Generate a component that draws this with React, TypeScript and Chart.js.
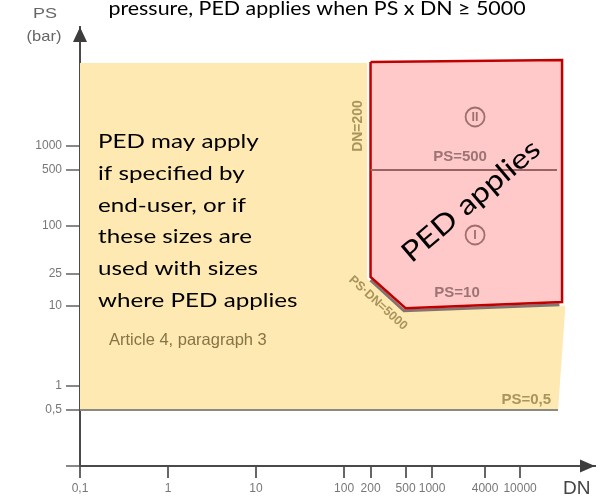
import React, { useEffect, useRef } from "react";
import { Chart, registerables } from "chart.js";

Chart.register(...registerables);

// ---------- axis ticks ----------
const dnTicks = [0.1, 1, 10, 100, 200, 500, 1000, 4000, 10000];
const dnTickLabels = ["0,1", "1", "10", "100", "200", "500", "1000", "4000", "10000"];
const psTicks = [0.1, 0.5, 1, 10, 25, 100, 500, 1000];
const psTickLabels = ["", "0,5", "1", "10", "25", "100", "500", "1000"];

const DN_MIN = 0.1;
const DN_MAX = 71000;
const PS_MIN = 0.1;
const PS_MAX = 30700;

// ---------- regions / lines (DN, PS) ----------
const yellowDN = [0.1, 0.1, 29000, 32500, 27000, 0.1];
const yellowPS = [0.5, 10900, 10900, 9, 0.5, 0.5];

const redDN = [200, 30000, 30000, 500, 200, 200];
const redPS = [11200, 11900, 11.2, 9.4, 23, 11200];

const shadowDN = [200, 480, 28000];
const shadowPS = [21, 8.7, 10.4];

const ps500DN = [200, 26300];
const ps500PS = [500, 500];

const ps05DN = [0.1, 27000];
const ps05PS = [0.5, 0.5];

const pedBlockLines = [
  "PED may apply",
  "if specified by",
  "end-user, or if",
  "these sizes are",
  "used with sizes",
  "where PED applies",
];

const titleText = "pressure, PED applies when PS x DN \u2265 5000";

const pts = (xs: number[], ys: number[]) => xs.map((x, i) => ({ x, y: ys[i] }));

const CAL = "Lato, 'Open Sans', sans-serif";
const ARIAL = "'Liberation Sans', Arial, sans-serif";

function drawText(
  ctx: CanvasRenderingContext2D,
  t: string,
  x: number,
  y: number,
  o: { font: string; color: string; align?: CanvasTextAlign; baseline?: CanvasTextBaseline; rotate?: number; sx?: number }
) {
  ctx.save();
  ctx.translate(x, y);
  if (o.rotate) ctx.rotate((o.rotate * Math.PI) / 180);
  if (o.sx) ctx.scale(o.sx, 1);
  ctx.font = o.font;
  ctx.fillStyle = o.color;
  ctx.textAlign = o.align || "center";
  ctx.textBaseline = o.baseline || "middle";
  ctx.fillText(t, 0, 0);
  ctx.restore();
}

const decorPlugin = {
  id: "decor",
  afterDraw(chart: any) {
    const ctx: CanvasRenderingContext2D = chart.ctx;
    const xs = chart.scales.x;
    const ys = chart.scales.y;
    const X = (v: number) => xs.getPixelForValue(v);
    const Y = (v: number) => ys.getPixelForValue(v);
    const area = chart.chartArea;

    // arrows
    ctx.save();
    ctx.fillStyle = "#3d3d3d";
    ctx.beginPath();
    ctx.moveTo(area.left, area.top);
    ctx.lineTo(area.left - 7, area.top + 15);
    ctx.lineTo(area.left + 7, area.top + 15);
    ctx.closePath();
    ctx.fill();
    ctx.beginPath();
    ctx.moveTo(area.right, area.bottom);
    ctx.lineTo(area.right - 15, area.bottom - 6.5);
    ctx.lineTo(area.right - 15, area.bottom + 6.5);
    ctx.closePath();
    ctx.fill();
    ctx.restore();

    // circles I / II
    const circ = (dn: number, ps: number, label: string) => {
      ctx.save();
      ctx.strokeStyle = "#a06e6e";
      ctx.lineWidth = 1.8;
      ctx.beginPath();
      ctx.arc(X(dn), Y(ps), 9.5, 0, Math.PI * 2);
      ctx.stroke();
      ctx.restore();
      drawText(ctx, label, X(dn), Y(ps) + 0.5, { font: `bold 12.5px ${ARIAL}`, color: "#a06e6e" });
    };
    circ(3080, 2304, "II");
    circ(3080, 77.2, "I");

    const olive = "#a8955c";
    const rose = "#9c7474";
    drawText(ctx, "DN=200", X(144), Y(1778), { font: `bold 14px ${ARIAL}`, color: olive, rotate: -90 });
    drawText(ctx, "PS=500", X(2080), Y(729), { font: `bold 15px ${ARIAL}`, color: rose });
    drawText(ctx, "PS=10", X(1923), Y(14.7), { font: `bold 15px ${ARIAL}`, color: rose });
    drawText(ctx, "PS\u00b7DN=5000", X(243), Y(10.9), { font: `bold 12.5px ${ARIAL}`, color: olive, rotate: 42.3 });
    drawText(ctx, "PS=0,5", X(22500), Y(0.668), { font: `bold 15px ${ARIAL}`, color: olive, align: "right" });
    drawText(ctx, "Article 4, paragraph 3", X(0.2135), Y(3.76), { font: `16.5px ${ARIAL}`, color: "#857445", align: "left" });

    // PED may apply block
    pedBlockLines.forEach((line, i) => {
      drawText(ctx, line, X(0.16), Y(935) + i * 31.7, {
        font: `20px ${CAL}`,
        color: "#000",
        align: "left",
        baseline: "alphabetic",
        sx: 1.21,
      });
    });

    drawText(ctx, "PED applies", X(2775), Y(205), { font: `28px ${CAL}`, color: "#000", rotate: -40.5, sx: 1.17 });

    // title & axis names
    drawText(ctx, titleText, 317, 15, { font: `20px ${CAL}`, color: "#000", baseline: "alphabetic", sx: 1.07 });
    drawText(ctx, "PS", 45, 18, { font: `15px ${ARIAL}`, color: "#666", baseline: "alphabetic", sx: 1.2 });
    drawText(ctx, "(bar)", 44, 40.5, { font: `15px ${ARIAL}`, color: "#666", baseline: "alphabetic", sx: 1.1 });
    drawText(ctx, "DN", 563, 494, { font: `19px ${ARIAL}`, color: "#444", align: "left", baseline: "alphabetic" });
  },
};

export default function App() {
  const ref = useRef<HTMLCanvasElement | null>(null);

  useEffect(() => {
    if (!ref.current) return;
    const chart = new Chart(ref.current, {
      type: "line",
      data: {
        datasets: [
          {
            data: pts(ps500DN, ps500PS),
            borderColor: "#9a6464",
            borderWidth: 2,
            pointRadius: 0,
            fill: false,
            order: 0,
          },
          {
            data: pts(redDN, redPS),
            borderColor: "#c00000",
            backgroundColor: "#ffc9c9",
            borderWidth: 2.5,
            pointRadius: 0,
            fill: "shape",
            borderJoinStyle: "miter",
            order: 1,
          },
          {
            data: pts(shadowDN, shadowPS),
            borderColor: "rgba(110,90,90,0.85)",
            borderWidth: 3,
            pointRadius: 0,
            fill: false,
            order: 2,
          },
          {
            data: pts(redDN, redPS),
            borderColor: "#ffffff",
            borderWidth: 7,
            pointRadius: 0,
            fill: false,
            order: 3,
          },
          {
            data: pts(ps05DN, ps05PS),
            borderColor: "#8a8a82",
            borderWidth: 2,
            pointRadius: 0,
            fill: false,
            order: 4,
          },
          {
            data: pts(yellowDN, yellowPS),
            borderColor: "rgba(0,0,0,0)",
            backgroundColor: "#fde9b1",
            borderWidth: 0,
            pointRadius: 0,
            fill: "shape",
            order: 5,
          },
        ] as any,
      },
      options: {
        responsive: false,
        animation: false,
        events: [],
        layout: { padding: { top: 27, right: 13, left: 0, bottom: 0 } },
        plugins: { legend: { display: false }, tooltip: { enabled: false } },
        elements: { line: { tension: 0 } },
        scales: {
          x: {
            type: "logarithmic",
            min: DN_MIN,
            max: DN_MAX,
            z: 1,
            afterFit: (s: any) => {
              s.height = 32;
            },
            afterBuildTicks: (s: any) => {
              s.ticks = dnTicks.map((v) => ({ value: v }));
            },
            ticks: {
              autoSkip: false,
              maxRotation: 0,
              minRotation: 0,
              padding: 3,
              color: "#777",
              font: { family: ARIAL, size: 12 },
              callback: (_v: any, i: number) => dnTickLabels[i],
            },
            grid: { drawOnChartArea: false, drawTicks: true, tickLength: 12, color: "#666", lineWidth: 2 },
            border: { display: true, color: "#4a4a4a", width: 2 },
          },
          y: {
            type: "logarithmic",
            min: PS_MIN,
            max: PS_MAX,
            z: 1,
            afterFit: (s: any) => {
              s.width = 80;
            },
            afterBuildTicks: (s: any) => {
              s.ticks = psTicks.map((v) => ({ value: v }));
            },
            ticks: {
              autoSkip: false,
              padding: 4,
              color: "#777",
              font: { family: ARIAL, size: 12 },
              callback: (_v: any, i: number) => psTickLabels[i],
            },
            grid: { drawOnChartArea: false, drawTicks: true, tickLength: 14, color: "#888", lineWidth: 2 },
            border: { display: true, color: "#4a4a4a", width: 2 },
          },
        },
      } as any,
      plugins: [decorPlugin],
    });
    return () => chart.destroy();
  }, []);

  return (
    <div style={{ position: "absolute", left: 0, top: 0, width: 608, height: 498, background: "#fff" }}>
      <canvas ref={ref} width={608} height={498} />
    </div>
  );
}
